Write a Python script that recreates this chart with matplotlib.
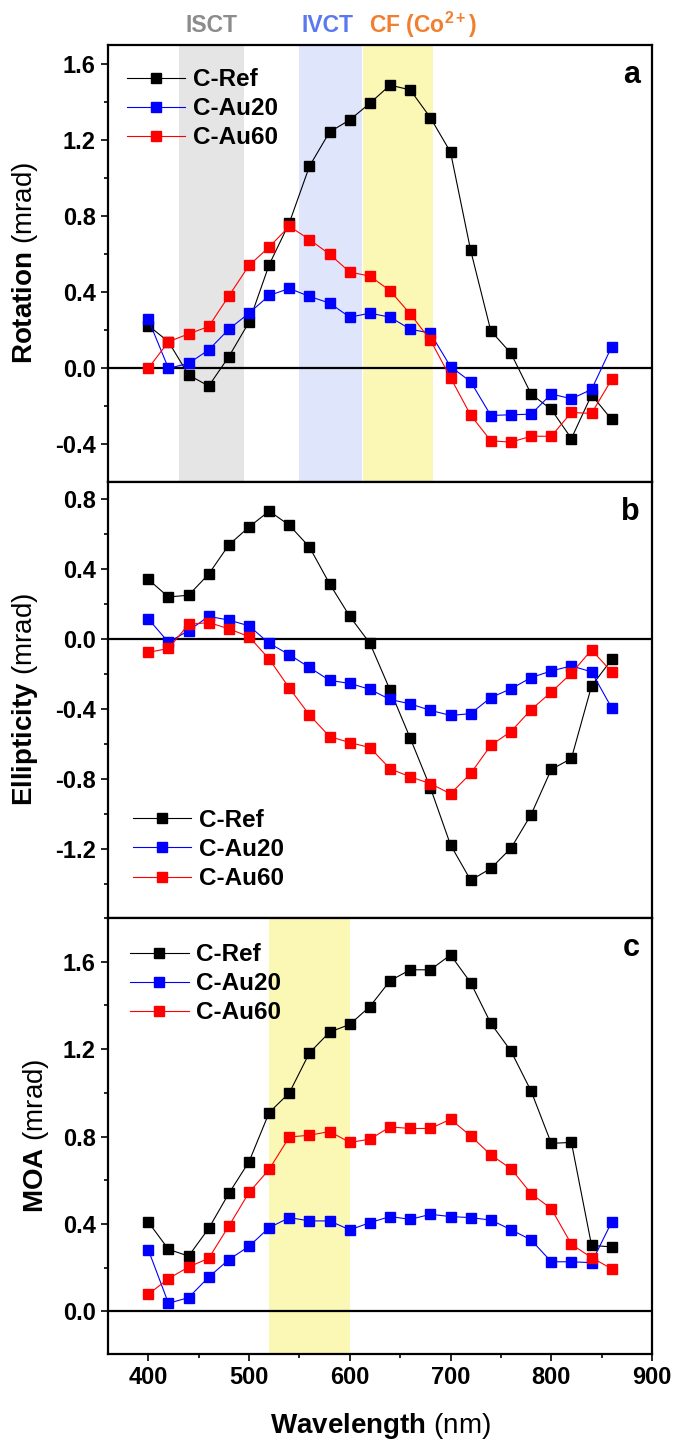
import matplotlib
matplotlib.use("Agg")
import matplotlib.pyplot as plt
from matplotlib.ticker import MultipleLocator

plt.rcParams['font.family'] = ['Liberation Sans', 'DejaVu Sans']
plt.rcParams['mathtext.fontset'] = 'custom'
plt.rcParams['mathtext.rm'] = 'Liberation Sans'
plt.rcParams['mathtext.bf'] = 'Liberation Sans:bold'
plt.rcParams['mathtext.it'] = 'Liberation Sans:italic'

wavelength = [400, 420, 440, 460, 480, 500, 520, 540, 560, 580, 600, 620,
              640, 660, 680, 700, 720, 740, 760, 780, 800, 820, 840, 860]

rot_ref = [0.225, 0.14, -0.035, -0.093, 0.062, 0.243, 0.545, 0.765, 1.063, 1.243, 1.306, 1.394,
           1.489, 1.464, 1.318, 1.137, 0.62, 0.197, 0.079, -0.135, -0.216, -0.369, -0.14, -0.269]
rot_au20 = [0.258, 0.0, 0.026, 0.097, 0.206, 0.29, 0.383, 0.42, 0.378, 0.343, 0.269, 0.29,
            0.269, 0.206, 0.185, 0.009, -0.07, -0.248, -0.244, -0.241, -0.135, -0.16, -0.111, 0.114]
rot_au60 = [0.0, 0.14, 0.181, 0.22, 0.381, 0.541, 0.638, 0.747, 0.677, 0.6, 0.506, 0.485,
            0.408, 0.286, 0.149, -0.049, -0.246, -0.381, -0.388, -0.357, -0.357, -0.232, -0.237, -0.058]

ell_ref = [0.34, 0.24, 0.25, 0.371, 0.538, 0.64, 0.731, 0.65, 0.525, 0.315, 0.129, -0.025,
           -0.292, -0.567, -0.85, -1.177, -1.379, -1.312, -1.196, -1.004, -0.746, -0.683, -0.269, -0.117]
ell_au20 = [0.115, -0.019, 0.048, 0.129, 0.108, 0.075, -0.025, -0.09, -0.163, -0.237, -0.254, -0.288,
            -0.346, -0.371, -0.408, -0.437, -0.427, -0.335, -0.285, -0.221, -0.183, -0.154, -0.188, -0.394]
ell_au60 = [-0.077, -0.054, 0.083, 0.094, 0.058, 0.013, -0.115, -0.281, -0.435, -0.558, -0.592, -0.621,
            -0.742, -0.788, -0.827, -0.885, -0.769, -0.608, -0.529, -0.404, -0.304, -0.196, -0.063, -0.188]

moa_ref = [0.409, 0.284, 0.253, 0.38, 0.54, 0.685, 0.91, 1.0, 1.183, 1.278, 1.313, 1.395,
           1.513, 1.563, 1.563, 1.631, 1.504, 1.318, 1.191, 1.008, 0.769, 0.773, 0.302, 0.295]
moa_au20 = [0.282, 0.037, 0.063, 0.157, 0.237, 0.298, 0.383, 0.429, 0.414, 0.414, 0.373, 0.406,
            0.434, 0.421, 0.444, 0.434, 0.429, 0.418, 0.374, 0.327, 0.227, 0.227, 0.223, 0.409]
moa_au60 = [0.078, 0.15, 0.203, 0.243, 0.391, 0.544, 0.65, 0.798, 0.806, 0.823, 0.773, 0.788,
            0.844, 0.837, 0.837, 0.879, 0.803, 0.716, 0.653, 0.539, 0.47, 0.307, 0.246, 0.195]

series_labels = ["C-Ref", "C-Au20", "C-Au60"]
series_colors = ["black", "blue", "red"]

bands_a = [(430, 495, "#e5e5e5"), (550, 612, "#dfe6fb"), (613, 683, "#fbf7b4")]
band_texts = ["ISCT", "IVCT", "CF (Co$^{\\mathbf{2+}}$)"]
band_text_colors = ["#8c8c8c", "#5a78f0", "#f08030"]
band_text_x = [0.191, 0.404, 0.579]
band_c = (520, 600, "#fbf7b4")

W, H = 676, 1443
fig = plt.figure(figsize=(W / 100, H / 100), dpi=100)
L, R = 108, 652
tops = [45, 481.5, 918]
bots = [481.5, 918, 1354]
axes = []
for t, b in zip(tops, bots):
    ax = fig.add_axes([L / W, 1 - b / H, (R - L) / W, (b - t) / H])
    axes.append(ax)

panels = [
    (axes[0], [rot_ref, rot_au20, rot_au60], "$\\mathbf{Rotation}$ (mrad)", (-0.595, 1.7), "a",
     dict(loc="upper left", bbox_to_anchor=(0.035, 0.947)), -0.125),
    (axes[1], [ell_ref, ell_au20, ell_au60], "$\\mathbf{Ellipticity}$ (mrad)", (-1.595, 0.9), "b",
     dict(loc="lower left", bbox_to_anchor=(0.046, 0.064)), -0.125),
    (axes[2], [moa_ref, moa_au20, moa_au60], "$\\mathbf{MOA}$ (mrad)", (-0.195, 1.8), "c",
     dict(loc="upper left", bbox_to_anchor=(0.041, 0.942)), -0.105),
]

for ax, data, ylab, ylim, tag, legkw, ylx in panels:
    for vals, lab, col in zip(data, series_labels, series_colors):
        ax.plot(wavelength, vals, color=col, lw=0.8, marker="s", markersize=6.5,
                markerfacecolor=col, markeredgecolor=col, label=lab, zorder=3)
    ax.axhline(0, color="black", lw=1.6, zorder=2)
    ax.set_xlim(360, 900)
    ax.set_ylim(*ylim)
    ax.xaxis.set_major_locator(MultipleLocator(100))
    ax.xaxis.set_minor_locator(MultipleLocator(50))
    ax.yaxis.set_major_locator(MultipleLocator(0.4))
    ax.yaxis.set_minor_locator(MultipleLocator(0.2))
    ax.yaxis.set_major_formatter(matplotlib.ticker.FormatStrFormatter("%.1f"))
    for s in ax.spines.values():
        s.set_linewidth(1.6)
    ax.tick_params(which="major", direction="out", length=5, width=1.2, labelsize=17, pad=4)
    ax.tick_params(which="minor", direction="out", length=3, width=1.2)
    for lbl in ax.get_yticklabels():
        lbl.set_fontweight("bold")
    ax.set_ylabel(ylab, fontsize=20)
    ax.yaxis.set_label_coords(ylx, 0.5)
    ax.legend(frameon=False, handlelength=2.4, handletextpad=0.3,
              labelspacing=0.25, borderaxespad=0, borderpad=0,
              prop=dict(weight="bold", size=17.5), **legkw)
    ax.text(0.978, 0.912, tag, transform=ax.transAxes, ha="right", va="baseline",
            fontsize=22, fontweight="bold")

for ax in axes[:2]:
    ax.tick_params(axis="x", which="both", bottom=False, labelbottom=False)

for (x0, x1, fc), txt, tc, tx in zip(bands_a, band_texts, band_text_colors, band_text_x):
    axes[0].axvspan(x0, x1, color=fc, zorder=0, lw=0)
    axes[0].text(tx, 1.045, txt, transform=axes[0].transAxes,
                 ha="center", va="center", fontsize=16.5, fontweight="bold", color=tc)

axes[2].axvspan(band_c[0], band_c[1], color=band_c[2], zorder=0, lw=0)
for lbl in axes[2].get_xticklabels():
    lbl.set_fontweight("bold")
axes[2].set_xlabel("$\\mathbf{Wavelength}$ (nm)", fontsize=20)
axes[2].xaxis.set_label_coords(0.5, -0.13)

fig.savefig("out.png", dpi=100)
